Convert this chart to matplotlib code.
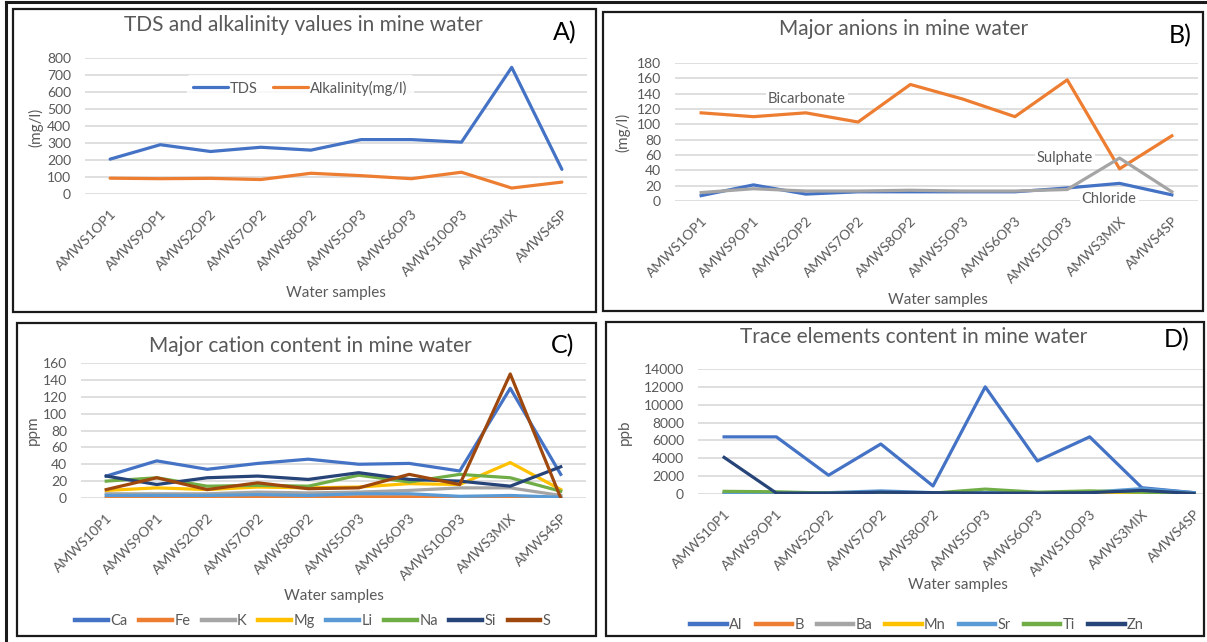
import matplotlib
matplotlib.use("Agg")
import matplotlib.pyplot as plt
from matplotlib.patches import Rectangle
from matplotlib.lines import Line2D

W, H = 1207, 642
plt.rcParams['font.family'] = ['Lato', 'DejaVu Sans']

# ---------------- data ----------------
samples_a = ["AMWS1OP1", "AMWS9OP1", "AMWS2OP2", "AMWS7OP2", "AMWS8OP2",
             "AMWS5OP3", "AMWS6OP3", "AMWS10OP3", "AMWS3MIX", "AMWS4SP"]
samples_c = ["AMWS10P1", "AMWS9OP1", "AMWS2OP2", "AMWS7OP2", "AMWS8OP2",
             "AMWS5OP3", "AMWS6OP3", "AMWS10OP3", "AMWS3MIX", "AMWS4SP"]

tds = [205, 290, 250, 275, 258, 320, 320, 305, 745, 145]
alkalinity = [93, 90, 92, 85, 122, 108, 90, 128, 35, 70]

chloride = [7, 21, 9, 12, 12, 12, 12, 17, 23, 8]
bicarbonate = [115, 110, 115, 103, 152, 133, 110, 158, 42, 85]
sulphate = [11, 16, 13, 13, 14, 13, 13, 15, 56, 12]

ca = [26, 44, 34, 41, 46, 40, 41, 32, 130, 28]
fe = [0.5, 0.5, 0.5, 0.5, 0.5, 1.5, 1.5, 0.5, 0.5, 0]
k = [5, 5, 5, 7, 6, 7, 9, 12, 12, 3]
mg = [9, 12, 10, 13, 12, 13, 17, 16, 42, 10]
li = [3, 3, 3, 4, 3, 5, 5, 2, 3, 1]
na = [20, 24, 14, 15, 14, 27, 19, 28, 24, 8]
si = [26, 16, 24, 26, 22, 30, 22, 20, 14, 37]
s = [10, 24, 10, 18, 11, 12, 28, 16, 147, 0]

al = [6400, 6400, 2100, 5600, 900, 12000, 3700, 6400, 700, 150]
b = [20, 20, 20, 20, 20, 20, 20, 20, 20, 10]
ba = [50, 50, 50, 60, 50, 50, 50, 50, 60, 20]
mn = [10, 10, 10, 10, 10, 10, 10, 10, 30, 5]
sr = [100, 100, 150, 350, 150, 150, 150, 200, 600, 150]
ti = [300, 250, 100, 150, 100, 550, 200, 350, 200, 50]
zn = [4100, 100, 100, 200, 150, 100, 100, 150, 400, 50]

BLUE, ORANGE, GRAY, GOLD = "#4472C4", "#ED7D31", "#A5A5A5", "#FFC000"
LBLUE, GREEN, NAVY, BROWN = "#5B9BD5", "#70AD47", "#264478", "#9E480E"
TXT = "#595959"

fig = plt.figure(figsize=(W / 100, H / 100), dpi=100)
fig.patch.set_facecolor("white")


def fx(px):
    return px / W


def fy(py):
    return 1 - py / H


def add_ax(x0, y0, x1, y1):
    return fig.add_axes([fx(x0), fy(y1), (x1 - x0) / W, (y1 - y0) / H])


def box(x0, y0, x1, y1, lw=1.6):
    fig.patches.append(Rectangle((fx(x0), fy(y1)), (x1 - x0) / W, (y1 - y0) / H,
                                 transform=fig.transFigure, fill=False,
                                 edgecolor="#1a1a1a", linewidth=lw, zorder=10))


def style(ax, labels, ylim, yticks, xmax=9.5):
    ax.set_xlim(-0.5, xmax)
    ax.set_ylim(*ylim)
    ax.set_yticks(yticks)
    ax.set_yticklabels([str(v) for v in yticks])
    ax.set_xticks(range(len(labels)))
    ax.set_xticklabels(labels, rotation=45, ha="right", va="top",
                       rotation_mode="anchor")
    for sp in ax.spines.values():
        sp.set_visible(False)
    ax.grid(axis="y", color="#D9D9D9", linewidth=1.2)
    ax.set_axisbelow(True)
    ax.tick_params(axis="both", length=0, colors=TXT, labelsize=10)
    ax.tick_params(axis="y", pad=10)
    ax.tick_params(axis="x", pad=10)
    ax.patch.set_alpha(0)


LW = 2.3
x = list(range(10))

# ---------------- Panel A ----------------
axA = add_ax(85, 58, 587, 194)
style(axA, samples_a, (0, 800), list(range(0, 801, 100)))
axA.plot(x, tds, color=BLUE, lw=LW, label="TDS", solid_capstyle="round")
axA.plot(x, alkalinity, color=ORANGE, lw=LW, label="Alkalinity(mg/l)",
         solid_capstyle="round")
legA = axA.legend(loc="center", bbox_to_anchor=((300 - 85) / 502, (194 - 88) / 136),
                  ncol=2, frameon=True, fontsize=10.5, handlelength=2.4,
                  handletextpad=0.15, columnspacing=1.0, borderpad=0.4)
legA.get_frame().set_facecolor("white")
legA.get_frame().set_edgecolor("white")
for t in legA.get_texts():
    t.set_color(TXT)
fig.text(fx(303), fy(25), "TDS and alkalinity values in mine water",
         ha="center", va="center", fontsize=15, color=TXT)
fig.text(fx(565), fy(33), "A)", ha="center", va="center", fontsize=18, color="black")
fig.text(fx(36), fy(127), "(mg/l)", ha="center", va="center", rotation=90,
         fontsize=11, color=TXT)
fig.text(fx(336), fy(293), "Water samples", ha="center", va="center",
         fontsize=11, color=TXT)

# ---------------- Panel B ----------------
axB = add_ax(675, 63, 1198, 201)
style(axB, samples_a, (0, 180), list(range(0, 181, 20)))
axB.plot(x, chloride, color=BLUE, lw=LW)
axB.plot(x, bicarbonate, color=ORANGE, lw=LW)
axB.plot(x, sulphate, color=GRAY, lw=LW)
wb = dict(facecolor="white", edgecolor="none", pad=1.5)
axB.text(2.02, 133, "Bicarbonate", ha="center", va="center", fontsize=10.5,
         color=TXT, bbox=wb)
axB.text(6.96, 56, "Sulphate", ha="center", va="center", fontsize=10.5,
         color=TXT, bbox=wb)
axB.text(7.8, 2.6, "Chloride", ha="center", va="center", fontsize=10.5,
         color=TXT, bbox=wb)
fig.text(fx(904), fy(29), "Major anions in mine water", ha="center", va="center",
         fontsize=15, color=TXT)
fig.text(fx(1180), fy(36), "B)", ha="center", va="center", fontsize=18, color="black")
fig.text(fx(623), fy(132), "(mg/l)", ha="center", va="center", rotation=90,
         fontsize=11, color=TXT)
fig.text(fx(938), fy(300), "Water samples", ha="center", va="center",
         fontsize=11, color=TXT)

# ---------------- Panel C ----------------
axC = add_ax(81, 363, 586, 498)
style(axC, samples_c, (0, 160), list(range(0, 161, 20)))
c_series = [("Ca", ca, BLUE), ("Fe", fe, ORANGE), ("K", k, GRAY), ("Mg", mg, GOLD),
            ("Li", li, LBLUE), ("Na", na, GREEN), ("Si", si, NAVY), ("S", s, BROWN)]
for name, vals, col in c_series:
    axC.plot(x, vals, color=col, lw=LW, label=name)
legC = fig.legend(handles=[Line2D([], [], color=c, lw=3.2) for _, _, c in c_series],
                  labels=[n for n, _, _ in c_series], loc="center",
                  bbox_to_anchor=(fx(313), fy(621)), ncol=8, frameon=False,
                  fontsize=10.5, handlelength=2.25, handletextpad=0.15,
                  columnspacing=0.8)
for t in legC.get_texts():
    t.set_color(TXT)
fig.text(fx(310), fy(346), "Major cation content in mine water", ha="center",
         va="center", fontsize=15, color=TXT)
fig.text(fx(563), fy(346), "C)", ha="center", va="center", fontsize=18, color="black")
fig.text(fx(33), fy(430), "ppm", ha="center", va="center", rotation=90,
         fontsize=11, color=TXT)
fig.text(fx(334), fy(596), "Water samples", ha="center", va="center",
         fontsize=11, color=TXT)

# ---------------- Panel D ----------------
axD = add_ax(698, 369, 1203, 494)
style(axD, samples_c, (0, 14000), list(range(0, 14001, 2000)), xmax=9.17)
d_series = [("Al", al, BLUE), ("B", b, ORANGE), ("Ba", ba, GRAY), ("Mn", mn, GOLD),
            ("Sr", sr, LBLUE), ("Ti", ti, GREEN), ("Zn", zn, NAVY)]
for name, vals, col in d_series:
    axD.plot(x, vals, color=col, lw=LW, label=name)
legD = fig.legend(handles=[Line2D([], [], color=c, lw=3.2) for _, _, c in d_series],
                  labels=[n for n, _, _ in d_series], loc="center",
                  bbox_to_anchor=(fx(917), fy(625)), ncol=7, frameon=False,
                  fontsize=10.5, handlelength=2.5, handletextpad=0.15,
                  columnspacing=0.9)
for t in legD.get_texts():
    t.set_color(TXT)
fig.text(fx(914), fy(337), "Trace elements content in mine water", ha="center",
         va="center", fontsize=15, color=TXT)
fig.text(fx(1177), fy(340), "D)", ha="center", va="center", fontsize=18, color="black")
fig.text(fx(625), fy(432), "ppb", ha="center", va="center", rotation=90,
         fontsize=11, color=TXT)
fig.text(fx(958), fy(585), "Water samples", ha="center", va="center",
         fontsize=11, color=TXT)

# ---------------- frames ----------------
fig.lines.append(Line2D([fx(6), fx(6)], [fy(2), fy(642)], transform=fig.transFigure,
                        color="#1a1a1a", lw=2.2, zorder=10))
fig.lines.append(Line2D([fx(6), fx(1206)], [fy(2), fy(2)], transform=fig.transFigure,
                        color="#1a1a1a", lw=2.2, zorder=10))
box(13, 9, 596, 312)
box(603, 12, 1203, 311)
box(17, 323, 596, 636)
box(606, 322, 1204, 636)

fig.savefig("out.png", dpi=100)
